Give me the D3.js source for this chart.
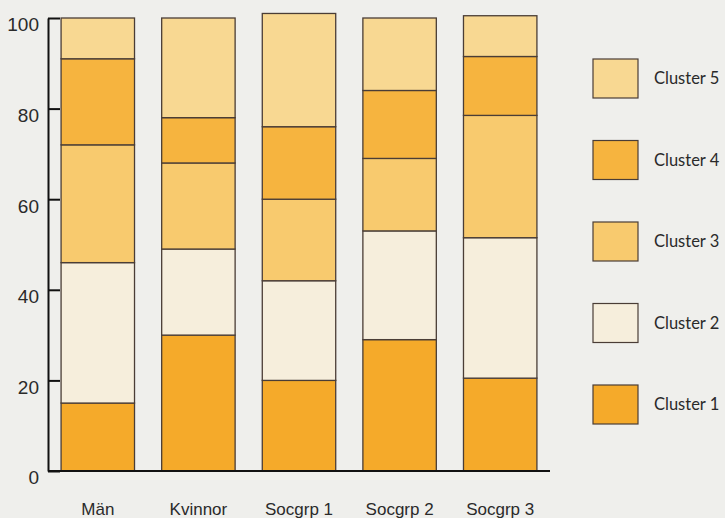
<!DOCTYPE html>
<html>
<head>
<meta charset="utf-8">
<script src="https://cdn.jsdelivr.net/npm/d3@7"></script>
<style>
  html, body { margin: 0; padding: 0; background: #efefec; }
  svg { display: block; }
</style>
</head>
<body>
<div id="chart"></div>
<script>
// chart data
const groups = ["Män", "Kvinnor", "Socgrp 1", "Socgrp 2", "Socgrp 3"];
const clusters = ["Cluster 1", "Cluster 2", "Cluster 3", "Cluster 4", "Cluster 5"];
const cluster1 = [15, 30, 20, 29, 20.5];
const cluster2 = [31, 19, 22, 24, 31];
const cluster3 = [26, 19, 18, 16, 27];
const cluster4 = [19, 10, 16, 15, 13];
const cluster5 = [9, 22, 25, 16, 9];
const yTicks = [0, 20, 40, 60, 80, 100];
const colors = ["#f5aa2a", "#f6eedc", "#f8ca6e", "#f6b43f", "#f8d892"];

const width = 725;
const height = 518;
const marginLeft = 48;
const axisRight = 550;
const y0 = 471;
const y100 = 18;

const seriesValues = [cluster1, cluster2, cluster3, cluster4, cluster5];
const rows = groups.map((g, i) => {
  const r = { group: g };
  clusters.forEach((c, j) => r[c] = seriesValues[j][i]);
  return r;
});
const stacked = d3.stack().keys(clusters)(rows);

const svg = d3.select("#chart")
  .append("svg")
  .attr("width", width)
  .attr("height", height)
  .attr("viewBox", [0, 0, width, height])
  .style("font-family", "Lato, 'DejaVu Sans', sans-serif");

svg.append("rect")
  .attr("width", width)
  .attr("height", height)
  .attr("fill", "#efefec");

const x = d3.scaleBand()
  .domain(groups)
  .range([marginLeft, axisRight])
  .paddingInner(0.27)
  .paddingOuter(0.13);

const y = d3.scaleLinear()
  .domain([0, 100])
  .range([y0, y100]);

const color = d3.scaleOrdinal().domain(clusters).range(colors);

// stacked bars
svg.append("g")
  .selectAll("g")
  .data(stacked)
  .join("g")
    .attr("fill", d => color(d.key))
  .selectAll("rect")
  .data(d => d)
  .join("rect")
    .attr("x", d => x(d.data.group))
    .attr("y", d => y(d[1]))
    .attr("height", d => y(d[0]) - y(d[1]))
    .attr("width", x.bandwidth())
    .attr("stroke", "#4a3d36")
    .attr("stroke-width", 1.3);

// axes
const gy = svg.append("g")
  .attr("transform", `translate(${marginLeft},0)`)
  .call(d3.axisLeft(y).tickValues(yTicks).tickSize(-12).tickSizeOuter(0).tickPadding(9));
gy.selectAll("path, line").attr("stroke", "#111").attr("stroke-width", 2);
gy.selectAll("text")
  .attr("font-size", 19)
  .attr("fill", "#2a2a2a")
  .attr("dy", "0.68em");

const gx = svg.append("g")
  .attr("transform", `translate(0,${y0})`)
  .call(d3.axisBottom(x).tickSize(0).tickPadding(32).tickSizeOuter(0));
gx.select(".domain").attr("stroke", "#111").attr("stroke-width", 2)
  .attr("d", `M${marginLeft},0H${axisRight}`);
gx.selectAll("text")
  .attr("font-size", 17)
  .attr("fill", "#2a2a2a");

// legend
const legendOrder = clusters.slice().reverse();
const legendY = d3.scalePoint()
  .domain(legendOrder)
  .range([59, 385]);

const legend = svg.append("g")
  .selectAll("g")
  .data(legendOrder)
  .join("g")
    .attr("transform", d => `translate(593,${legendY(d)})`);

legend.append("rect")
  .attr("width", 45)
  .attr("height", 39)
  .attr("fill", d => color(d))
  .attr("stroke", "#4a3d36")
  .attr("stroke-width", 1.2);

legend.append("text")
  .attr("x", 61)
  .attr("y", 19.5)
  .attr("dy", "0.35em")
  .attr("font-size", 16.5)
  .attr("fill", "#2a2a2a")
  .text(d => d);
</script>
</body>
</html>
